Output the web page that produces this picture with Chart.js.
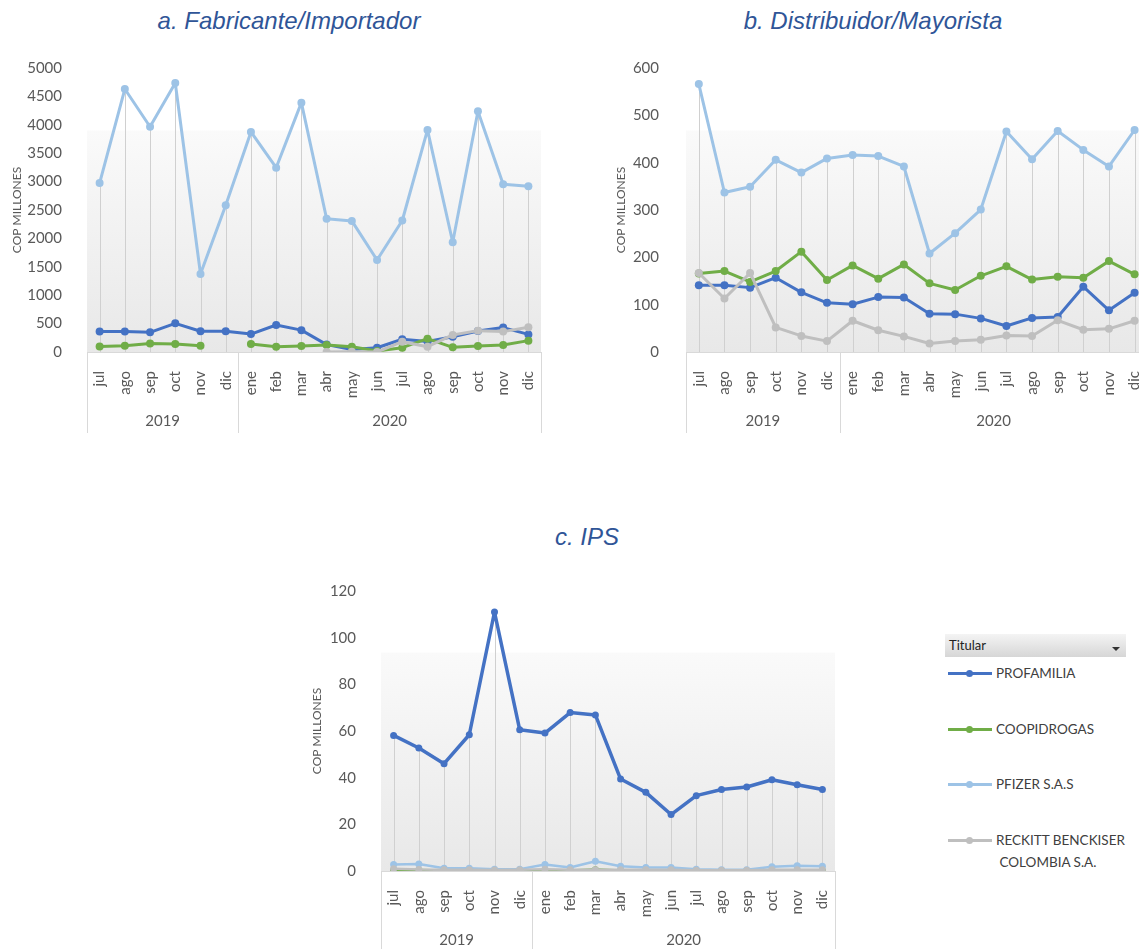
<!DOCTYPE html>
<html>
<head>
<meta charset="utf-8">
<script src="https://cdn.jsdelivr.net/npm/chart.js@4.4.1/dist/chart.umd.min.js"></script>
<style>
  html, body { margin: 0; padding: 0; background: #fff; }
  body { width: 1139px; height: 949px; position: relative; overflow: hidden; font-family: Lato, sans-serif; }
  canvas { position: absolute; }
  .title { position: absolute; font-family: "Liberation Sans", Arial, sans-serif; font-style: italic; font-size: 24px; color: #2F5597; white-space: nowrap; transform: translate(-50%, -50%); }
  #legend { position: absolute; left: 945px; top: 634px; width: 190px; }
  .leg-head { width: 181px; height: 23px; background: linear-gradient(#f4f4f4, #d6d6d6); font-size: 13px; color: #222; line-height: 23px; padding-left: 4px; box-sizing: border-box; position: relative; }
  .leg-head:after { content: ""; position: absolute; right: 6px; top: 13px; border-left: 4px solid transparent; border-right: 4px solid transparent; border-top: 4px solid #333; }
  .leg-item { position: absolute; left: 3px; font-size: 13.5px; color: #404040; line-height: 22px; }
  .leg-sw { position: absolute; left: 0; top: 10px; width: 44px; height: 3px; }
  .leg-sw i { position: absolute; left: 18px; top: -2px; width: 7px; height: 7px; border-radius: 50%; background: inherit; }
  .leg-tx { position: absolute; left: 48px; top: 0; white-space: nowrap; }
</style>
</head>
<body>
<div class="title" style="left:289px; top:21px;">a. Fabricante/Importador</div>
<div class="title" style="left:873px; top:21px;">b. Distribuidor/Mayorista</div>
<div class="title" style="left:587px; top:537px;">c. IPS</div>

<canvas id="chartA" width="560" height="400" style="left:0px; top:42px;"></canvas>
<canvas id="chartB" width="560" height="402" style="left:604px; top:40px;"></canvas>
<canvas id="chartC" width="560" height="396" style="left:300px; top:565px;"></canvas>
<div id="legend"></div>

<script>
// categories
const months = ['jul', 'ago', 'sep', 'oct', 'nov', 'dic', 'ene', 'feb', 'mar', 'abr', 'may', 'jun', 'jul', 'ago', 'sep', 'oct', 'nov', 'dic'];
const years = ['2019', '2020'];
const yearSpans = [6, 12];
const titulares = ['PROFAMILIA', 'COOPIDROGAS', 'PFIZER S.A.S', 'RECKITT BENCKISER COLOMBIA S.A.'];
const colors = ['#4472C4', '#70AD47', '#9DC3E6', '#BFBFBF'];

// a. Fabricante/Importador (COP millones)
const fabProfamilia = [360, 360, 347, 505, 365, 365, 315, 475, 385, 130, 45, 75, 225, 185, 270, 370, 430, 310];
const fabCoopidrogas = [95, 112, 150, 140, 112, null, 140, 94, 106, 124, 94, 18, 76, 235, 82, 106, 124, 200];
const fabPfizer = [2975, 4630, 3965, 4736, 1373, 2585, 3875, 3245, 4390, 2345, 2308, 1620, 2315, 3910, 1933, 4240, 2955, 2918];
const fabReckitt = [null, null, null, null, null, null, null, null, null, 0, 6, 0, 182, 94, 300, 376, 359, 435];
const fabAxis = [0, 5000, 500];

// b. Distribuidor/Mayorista
const distProfamilia = [141, 141, 136, 157, 126, 104, 101, 116, 115, 81, 80, 71, 55, 72, 74, 138, 88, 125];
const distCoopidrogas = [166, 171, 148, 171, 212, 152, 183, 155, 185, 145, 131, 161, 181, 153, 159, 157, 192, 164];
const distPfizer = [566, 337, 349, 406, 379, 409, 416, 414, 392, 208, 251, 301, 466, 407, 467, 427, 392, 469];
const distReckitt = [167, 113, 167, 52, 34, 23, 66, 46, 33, 18, 23, 26, 35, 34, 67, 47, 49, 66];
const distAxis = [0, 600, 100];

// c. IPS
const ipsProfamilia = [58.1, 52.7, 46.0, 58.4, 111.0, 60.5, 59.1, 67.9, 66.9, 39.4, 33.7, 24.2, 32.3, 34.9, 36.0, 39.1, 37.0, 34.9];
const ipsCoopidrogas = [0.2, 0.3, 0.1, 0.1, 0.1, 0.1, 0.2, 0.1, 0.5, 0.1, 0.1, 0.1, 0.1, 0.1, 0.1, 0.1, 0.1, 0.1];
const ipsPfizer = [2.8, 3.0, 1.2, 1.2, 0.8, 0.8, 2.8, 1.5, 4.2, 2.0, 1.5, 1.5, 0.8, 0.5, 0.5, 1.8, 2.2, 2.0];
const ipsReckitt = [1.0, 0.6, 0.5, 0.5, 0.4, 0.5, 0.8, 0.5, 0.5, 0.5, 0.5, 0.5, 0.3, 0.3, 0.3, 0.5, 0.5, 0.5];
const ipsAxis = [0, 120, 20];

const tickColor = '#595959';

// excel look: shaded plot area, drop lines, two level category axis
const excelPlugin = {
    id: 'excelLook',
    beforeDraw(chart) {
        const { ctx, chartArea: a } = chart;
        const top = a.top + (a.bottom - a.top) * 0.22;
        const g = ctx.createLinearGradient(0, top, 0, a.bottom);
        g.addColorStop(0, '#fafafa');
        g.addColorStop(1, '#e8e8e8');
        ctx.save();
        ctx.fillStyle = g;
        ctx.fillRect(a.left, top, a.right - a.left, a.bottom - top);
        ctx.restore();
    },
    beforeDatasetsDraw(chart) {
        const { ctx, chartArea: a, scales: { x, y } } = chart;
        ctx.save();
        ctx.strokeStyle = '#d0d0d0';
        ctx.lineWidth = 1;
        chart.data.labels.forEach((lab, i) => {
            let max = null;
            chart.data.datasets.forEach(ds => {
                const v = ds.data[i];
                if (v !== null && v !== undefined && (max === null || v > max)) max = v;
            });
            if (max === null) return;
            const px = Math.round(x.getPixelForValue(i)) + 0.5;
            ctx.beginPath();
            ctx.moveTo(px, y.getPixelForValue(max));
            ctx.lineTo(px, a.bottom);
            ctx.stroke();
        });
        ctx.restore();
    },
    afterDraw(chart) {
        const { ctx, chartArea: a, scales: { x } } = chart;
        const step = x.getPixelForValue(1) - x.getPixelForValue(0);
        ctx.save();
        ctx.strokeStyle = '#d9d9d9';
        ctx.lineWidth = 1;
        ctx.fillStyle = tickColor;
        ctx.font = '15px Lato';
        ctx.textAlign = 'center';
        ctx.textBaseline = 'middle';
        let start = 0;
        const edges = [x.getPixelForValue(0) - step / 2];
        yearSpans.forEach((n, k) => {
            const x0 = x.getPixelForValue(start);
            const x1 = x.getPixelForValue(start + n - 1);
            ctx.fillText(years[k], (x0 + x1) / 2, a.bottom + 69);
            edges.push(x1 + step / 2);
            start += n;
        });
        edges.forEach(ex => {
            const px = Math.round(ex) + 0.5;
            ctx.beginPath();
            ctx.moveTo(px, a.bottom);
            ctx.lineTo(px, a.bottom + 81);
            ctx.stroke();
        });
        ctx.beginPath();
        ctx.moveTo(edges[0], Math.round(a.bottom) + 0.5);
        ctx.lineTo(edges[edges.length - 1], Math.round(a.bottom) + 0.5);
        ctx.stroke();
        ctx.restore();
    }
};

function makeChart(id, series, axis, yWidth, tickPad, pad, lineW, radius) {
    const ctx = document.getElementById(id).getContext('2d');
    return new Chart(ctx, {
        type: 'line',
        data: {
            labels: months,
            datasets: series.map((data, i) => ({
                label: titulares[i],
                data: data,
                borderColor: colors[i],
                backgroundColor: colors[i],
                borderWidth: lineW[i],
                borderJoinStyle: 'round',
                borderCapStyle: 'round',
                pointRadius: radius,
                pointBorderWidth: 0,
                pointBackgroundColor: colors[i],
                spanGaps: false,
                tension: 0,
                order: series.length - i
            }))
        },
        options: {
            responsive: false,
            animation: false,
            layout: { padding: pad },
            plugins: { legend: { display: false }, tooltip: { enabled: false } },
            scales: {
                x: {
                    offset: true,
                    grid: { display: false, offset: true },
                    border: { display: false },
                    ticks: { color: tickColor, font: { family: 'Lato', size: 15 }, minRotation: 90, maxRotation: 90, padding: 11, autoSkip: false },
                    afterFit: function(scale) { scale.height = 90; }
                },
                y: {
                    min: axis[0],
                    max: axis[1],
                    grid: { display: false },
                    border: { display: false },
                    ticks: {
                        stepSize: axis[2], color: tickColor, font: { family: 'Lato', size: 15 }, padding: tickPad,
                        callback: function(value) { return String(value); }
                    },
                    title: { display: true, text: 'COP MILLONES', color: tickColor, font: { family: 'Lato', size: 12 }, padding: { top: 10, bottom: 0 } },
                    afterFit: function(scale) { scale.width = yWidth; }
                }
            }
        },
        plugins: [excelPlugin]
    });
}

makeChart('chartA', [fabProfamilia, fabCoopidrogas, fabPfizer, fabReckitt], fabAxis, 87, 17,
    { top: 12, left: 0, right: 19, bottom: 0 }, [3, 3, 3, 3], 4);
makeChart('chartB', [distProfamilia, distCoopidrogas, distPfizer, distReckitt], distAxis, 82, 19,
    { top: 12, left: 0, right: 15, bottom: 0 }, [3, 3, 3, 3], 4);
makeChart('chartC', [ipsProfamilia, ipsCoopidrogas, ipsPfizer, ipsReckitt], ipsAxis, 81, 17,
    { top: 12, left: 0, right: 25, bottom: 0 }, [3.5, 3, 2.5, 2.5], 3.5);

// legend
const legTops = [28, 84, 139, 195];
const legend = document.getElementById('legend');
legend.innerHTML = '<div class="leg-head">Titular</div>';
titulares.forEach((name, i) => {
    const item = document.createElement('div');
    item.className = 'leg-item';
    item.style.top = legTops[i] + 'px';
    const words = name === 'RECKITT BENCKISER COLOMBIA S.A.' ? 'RECKITT BENCKISER<br>&nbsp;COLOMBIA S.A.' : name;
    item.innerHTML = '<div class="leg-sw" style="background:' + colors[i] + '"><i></i></div><div class="leg-tx">' + words + '</div>';
    legend.appendChild(item);
});
</script>
</body>
</html>
